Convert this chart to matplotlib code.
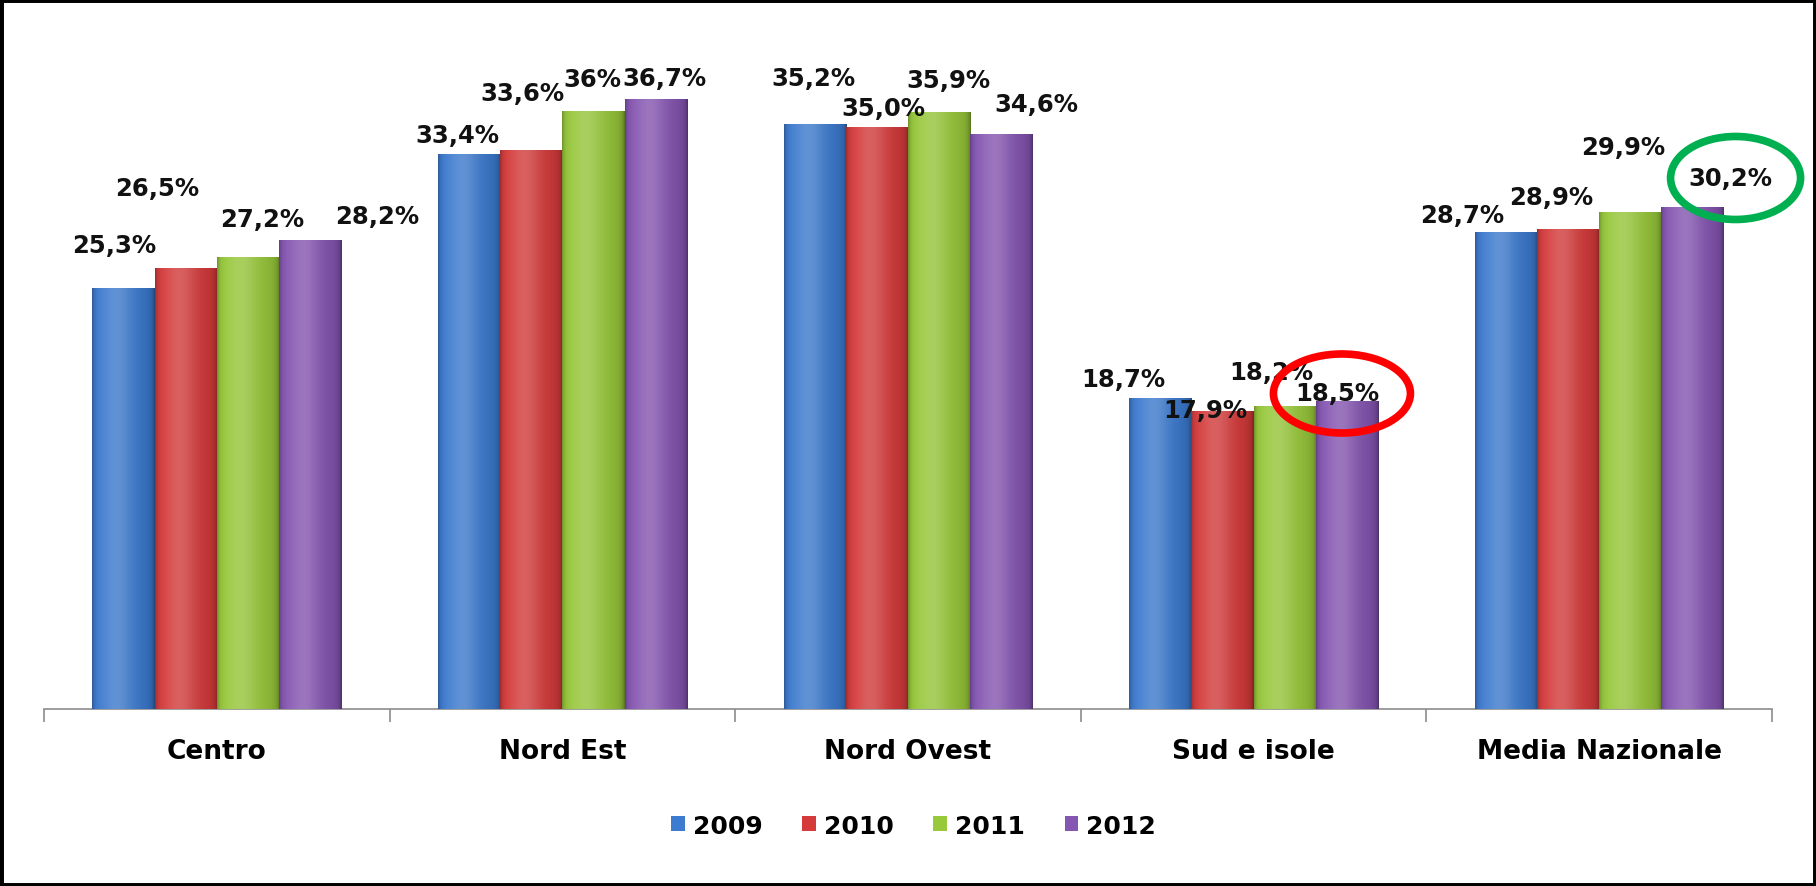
import numpy as np
import matplotlib.pyplot as plt
from matplotlib.patches import Ellipse, Rectangle, Patch
from matplotlib.colors import to_rgb
from matplotlib.transforms import IdentityTransform

categories = ['Centro', 'Nord Est', 'Nord Ovest', 'Sud e isole', 'Media Nazionale']
years = ['2009', '2010', '2011', '2012']

v2009 = [25.3, 33.4, 35.2, 18.7, 28.7]
v2010 = [26.5, 33.6, 35.0, 17.9, 28.9]
v2011 = [27.2, 36.0, 35.9, 18.2, 29.9]
v2012 = [28.2, 36.7, 34.6, 18.5, 30.2]

lab2009 = ['25,3%', '33,4%', '35,2%', '18,7%', '28,7%']
lab2010 = ['26,5%', '33,6%', '35,0%', '17,9%', '28,9%']
lab2011 = ['27,2%', '36%', '35,9%', '18,2%', '29,9%']
lab2012 = ['28,2%', '36,7%', '34,6%', '18,5%', '30,2%']

colors = ['#3c7bd0', '#d63b3b', '#98c93a', '#8656b3']

# label offsets (pixels) from the top of each bar, the labels were moved by hand in the original
dx = [[-9, -12, -1, -37, -44], [-28, -9, 6, -17, -17], [14, -1, 9, -13, -7], [67, 9, 35, -10, 38]]
dy = [[43, 19, 46, 19, 17], [80, 57, 19, 1, 32], [38, 32, 32, 34, 65], [24, 21, 30, 8, 29]]

values = [v2009, v2010, v2011, v2012]
labels = [lab2009, lab2010, lab2011, lab2012]

plt.rcParams['font.family'] = ['DejaVu Sans']

fig = plt.figure(figsize=(18.16, 8.87), dpi=100)
ax = fig.add_axes([0.0242, 0.1995, 0.9516, 0.7497])

x = np.arange(len(categories))
w = 0.18
t = np.linspace(0, 1, 60)
hl = 0.2 * np.exp(-((t - 0.4) / 0.25) ** 2)
dark = 1 - 0.15 * t ** 2 - 0.25 * (np.exp(-t / 0.04) + np.exp(-(1 - t) / 0.04))

for i, vals in enumerate(values):
    pos = x + (i - 1.5) * w
    bars = ax.bar(pos, vals, w, color=colors[i], edgecolor='none', zorder=2)
    c = np.array(to_rgb(colors[i]))
    grad = (c[None, :] + (1 - c[None, :]) * hl[:, None]) * dark[:, None]
    grad = np.clip(grad, 0, 1)[None, :, :]
    for b in bars:
        im = ax.imshow(grad, extent=[b.get_x(), b.get_x() + b.get_width(), 0, b.get_height()],
                       aspect='auto', zorder=3, interpolation='bilinear')
        im.set_clip_path(b)
    for j, b in enumerate(bars):
        ax.annotate(labels[i][j], (b.get_x() + b.get_width() / 2, b.get_height()),
                    xytext=(dx[i][j], dy[i][j]), textcoords='offset pixels',
                    ha='center', va='center', fontsize=17.5, fontweight='bold', color='#111111', zorder=5)

ax.set_xlim(-0.5, len(categories) - 0.5)
ax.set_ylim(0, 40)
ax.set_yticks([])
for s in ['top', 'right', 'left']:
    ax.spines[s].set_visible(False)
ax.spines['bottom'].set_color('#8c8c8c')
ax.spines['bottom'].set_linewidth(1.2)
ax.set_xticks(x)
ax.set_xticklabels(categories, fontsize=19, fontweight='bold')
ax.tick_params(axis='x', which='major', length=0, pad=21)
ax.set_xticks(np.arange(len(categories) + 1) - 0.5, minor=True)
ax.tick_params(axis='x', which='minor', length=9, color='#8c8c8c', width=1.2)

# circles around the highlighted values
fig.canvas.draw()
for (i, j, col, ew, eh) in [(3, 3, '#ff0000', 137, 79), (3, 4, '#00b050', 130, 83)]:
    px, py = ax.transData.transform((x[j] + (i - 1.5) * w, values[i][j]))
    e = Ellipse((px + dx[i][j] + 5, py + dy[i][j]), ew, eh, transform=IdentityTransform(),
                fill=False, edgecolor=col, linewidth=5.5, zorder=10)
    fig.add_artist(e)

handles = [Patch(facecolor=colors[i], edgecolor='none', label=years[i]) for i in range(4)]
leg = fig.legend(handles=handles, loc='center', bbox_to_anchor=(0.503, 0.068), ncol=4,
                 frameon=False, handlelength=0.55, handleheight=0.55, handletextpad=0.3,
                 columnspacing=1.6, prop={'size': 18, 'weight': 'bold'})

fig.add_artist(Rectangle((0, 0), 1, 1, transform=fig.transFigure, fill=False,
                         edgecolor='black', linewidth=5))

fig.savefig('out.png', dpi=100)
